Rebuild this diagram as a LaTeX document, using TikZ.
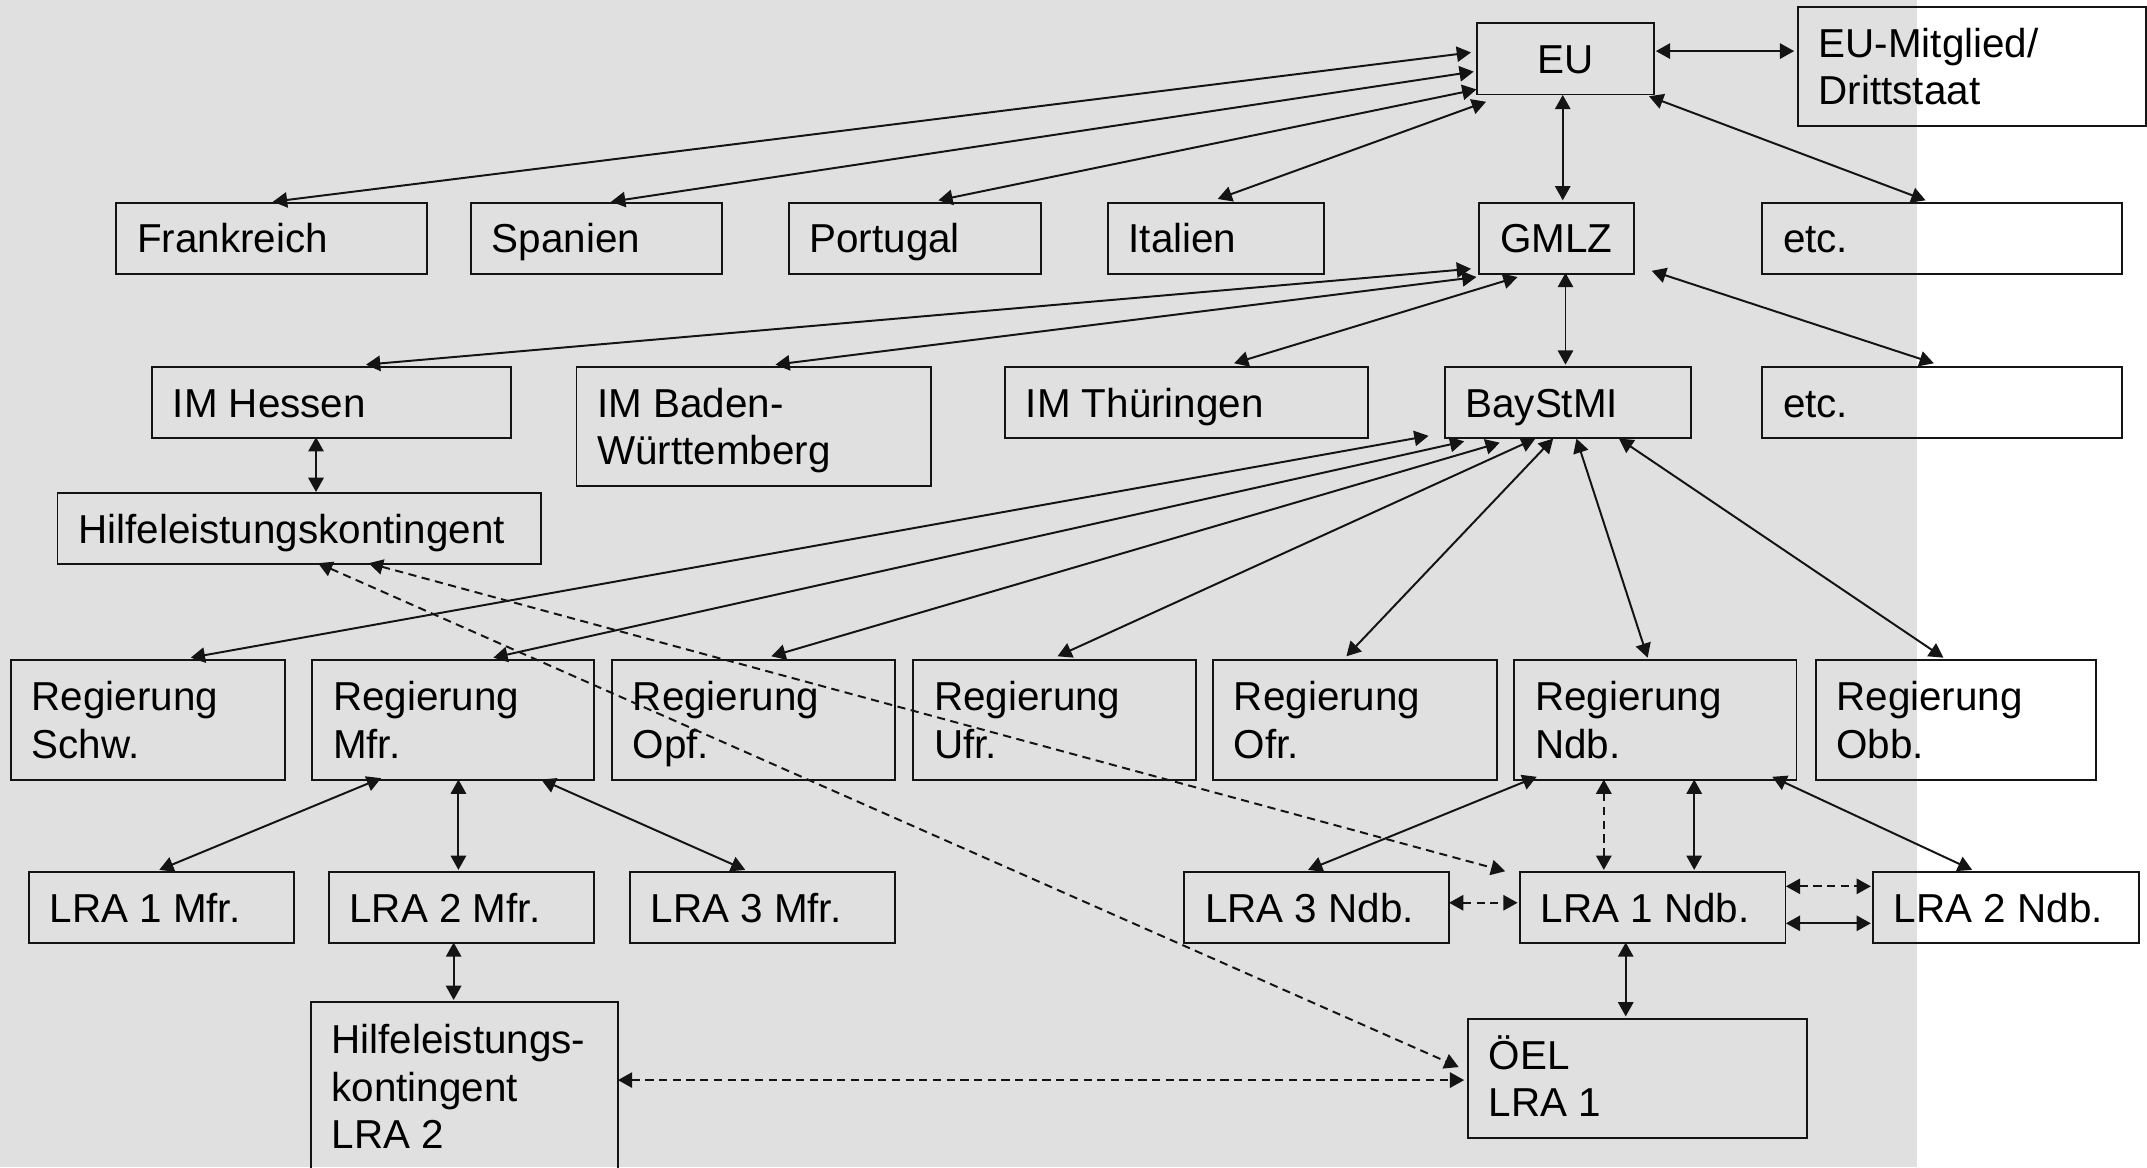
\documentclass[tikz,border=0pt]{standalone}
\usepackage{fontspec}
\setmainfont{Liberation Sans}
\usetikzlibrary{arrows.meta,fit,calc}
\newlength\un \setlength\un{0.5pt}
\newcommand\ms{\rule[-6.8\un]{0pt}{34.8\un}}
\definecolor{bggray}{RGB}{224,224,224}
\definecolor{ln}{RGB}{20,20,20}
\newcommand\mybox[6]{%
  \coordinate (#1-a) at (#2,#3);
  \coordinate (#1-b) at (#4,#5);
  \node[boxst, fit=(#1-a)(#1-b)] (#1) {};
  \node[txt, anchor=west] (#1-t) at ([xshift=15.5\un]#1.west) {#6};
}
\newcommand\myboxc[6]{%
  \coordinate (#1-a) at (#2,#3);
  \coordinate (#1-b) at (#4,#5);
  \node[boxst, fit=(#1-a)(#1-b)] (#1) {};
  \node[txt] (#1-t) at (#1.center) {#6};
}
\begin{document}
\begin{tikzpicture}[x=0.5pt, y=-0.5pt,
  >={Triangle[length=5.2pt,width=5.6pt]},
  boxst/.style={draw=ln, line width=0.7pt, inner sep=0pt, rectangle},
  txt/.style={inner sep=0pt, align=left, font=\fontsize{14.75pt}{17.4pt}\selectfont},
  con/.style={line width=0.72pt, draw=ln, <->},
  dcon/.style={con, dash pattern=on 3pt off 2pt}]
\useasboundingbox (0,0) rectangle (1568,852.3);
\clip (0,0) rectangle (1568,852.3);
\fill[bggray] (0,0) rectangle (1400,852.3);

% boxes
\myboxc{EU}{1079}{17}{1208}{69}{\ms EU}
\mybox{EUM}{1313}{5}{1567}{92}{\ms EU-Mitglied/\\\ms Drittstaat}
\mybox{FR}{85}{148}{312}{200}{\ms Frankreich}
\mybox{ES}{344}{148}{527}{200}{\ms Spanien}
\mybox{PT}{576}{148}{760}{200}{\ms Portugal}
\mybox{IT}{809}{148}{967}{200}{\ms Italien}
\myboxc{GMLZ}{1080}{148}{1193}{200}{\ms GMLZ}
\mybox{ETCa}{1287}{148}{1550}{200}{\ms etc.}
\mybox{HE}{111}{268}{373}{320}{\ms IM Hessen}
\mybox{BW}{421}{268}{680}{355}{\ms IM Baden-\\\ms Württemberg}
\mybox{TH}{734}{268}{999}{320}{\ms IM Thüringen}
\mybox{BAY}{1055}{268}{1235}{320}{\ms BayStMI}
\mybox{ETCb}{1287}{268}{1550}{320}{\ms etc.}
\mybox{HK}{42}{360}{395}{412}{\ms Hilfeleistungskontingent}
\mybox{SCHW}{8}{482}{208}{569.5}{\ms Regierung\\\ms Schw.}
\mybox{MFR}{228}{482}{434}{569.5}{\ms Regierung\\\ms Mfr.}
\mybox{OPF}{447}{482}{653.5}{569.5}{\ms Regierung\\\ms Opf.}
\mybox{UFR}{667}{482}{873.5}{569.5}{\ms Regierung\\\ms Ufr.}
\mybox{OFR}{886}{482}{1093}{569.5}{\ms Regierung\\\ms Ofr.}
\mybox{NDB}{1106}{482}{1312}{569.5}{\ms Regierung\\\ms Ndb.}
\mybox{OBB}{1326}{482}{1531}{569.5}{\ms Regierung\\\ms Obb.}
\mybox{LAM}{21}{637}{215}{689}{\ms LRA 1 Mfr.}
\mybox{LBM}{240}{637}{434}{689}{\ms LRA 2 Mfr.}
\mybox{LCM}{460}{637}{653.5}{689}{\ms LRA 3 Mfr.}
\mybox{LCN}{865}{637}{1058}{689}{\ms LRA 3 Ndb.}
\mybox{LAN}{1110}{637}{1304}{689}{\ms LRA 1 Ndb.}
\mybox{LBN}{1368}{637}{1562}{689}{\ms LRA 2 Ndb.}
\mybox{HKB}{227}{732}{451}{855}{\ms Hilfeleistungs-\\\ms kontingent\\\ms LRA 2}
\mybox{OEL}{1072}{744}{1320}{831}{\ms ÖEL\\\ms LRA 1}

% connectors
\draw[con] ([shift={(-4,22)}]EU.north west) -- ([shift={(115,0)}]FR.north west);
\draw[con] ([shift={(-2,36)}]EU.north west) -- ([shift={(103,0)}]ES.north west);
\draw[con] ([shift={(0,49)}]EU.north west) -- ([shift={(110,-1)}]PT.north west);
\draw[con] ([shift={(7,58)}]EU.north west) -- ([shift={(81,-2)}]IT.north west);
\draw[con] ([shift={(131,21)}]EU.north west) -- ([shift={(-2,33)}]EUM.north west);
\draw[con] ([shift={(63,53)}]EU.north west) -- ([shift={(62,-1)}]GMLZ.north west);
\draw[con] ([shift={(126,54)}]EU.north west) -- ([shift={(120,-1)}]ETCa.north west);

\draw[con] ([shift={(-5,49)}]GMLZ.north west) -- ([shift={(157,-1)}]HE.north west);
\draw[con] ([shift={(-1,55)}]GMLZ.north west) -- ([shift={(146,-1)}]BW.north west);
\draw[con] ([shift={(29,55)}]GMLZ.north west) -- ([shift={(168,-2)}]TH.north west);
\draw[con] ([shift={(64,52)}]GMLZ.north west) -- ([shift={(89,-1)}]BAY.north west);
\draw[con] ([shift={(127,50.5)}]GMLZ.north west) -- ([shift={(126,-2)}]ETCb.north west);

\draw[con] ([shift={(120.5,52)}]HE.north west) -- ([shift={(189.5,0)}]HK.north west);

\draw[con] ([shift={(-11,51)}]BAY.north west) -- ([shift={(132,-1)}]SCHW.north west);
\draw[con] ([shift={(15,55)}]BAY.north west) -- ([shift={(133,-1)}]MFR.north west);
\draw[con] ([shift={(41,56)}]BAY.north west) -- ([shift={(117,-2)}]OPF.north west);
\draw[con] ([shift={(67,53)}]BAY.north west) -- ([shift={(106,-2)}]UFR.north west);
\draw[con] ([shift={(80,53)}]BAY.north west) -- ([shift={(98,-2)}]OFR.north west);
\draw[con] ([shift={(97,53)}]BAY.north west) -- ([shift={(98,-1)}]NDB.north west);
\draw[con] ([shift={(128,53)}]BAY.north west) -- ([shift={(94,-1)}]OBB.north west);

\draw[con] ([shift={(51,87)}]MFR.north west) -- ([shift={(96,-1)}]LAM.north west);
\draw[con] ([shift={(107.5,88)}]MFR.north west) -- ([shift={(95.5,-1)}]LBM.north west);
\draw[con] ([shift={(168,88)}]MFR.north west) -- ([shift={(85,-1)}]LCM.north west);
\draw[con] ([shift={(92,52)}]LBM.north west) -- ([shift={(105,-1)}]HKB.north west);

\draw[con] ([shift={(17,86)}]NDB.north west) -- ([shift={(91,-1)}]LCN.north west);
\draw[dcon] ([shift={(66,88)}]NDB.north west) -- ([shift={(62,-1)}]LAN.north west);
\draw[con] ([shift={(132,88)}]NDB.north west) -- ([shift={(128,-1)}]LAN.north west);
\draw[con] ([shift={(189,86)}]NDB.north west) -- ([shift={(73,-1)}]LBN.north west);

\draw[dcon] ([shift={(194,23)}]LCN.north west) -- ([shift={(-1,23)}]LAN.north west);
\draw[dcon] ([shift={(195,11)}]LAN.north west) -- ([shift={(-1,11)}]LBN.north west);
\draw[con] ([shift={(195,38)}]LAN.north west) -- ([shift={(-1,38)}]LBN.north west);
\draw[con] ([shift={(78,52)}]LAN.north west) -- ([shift={(116,-1)}]OEL.north west);

\draw[dcon] ([shift={(228,52)}]HK.north west) -- ([shift={(-10,0)}]LAN.north west);
\draw[dcon] ([shift={(191,52)}]HK.north west) -- ([shift={(-6,36)}]OEL.north west);
\draw[dcon] ([shift={(225,57.5)}]HKB.north west) -- ([shift={(-2,45.5)}]OEL.north west);
\end{tikzpicture}
\end{document}
